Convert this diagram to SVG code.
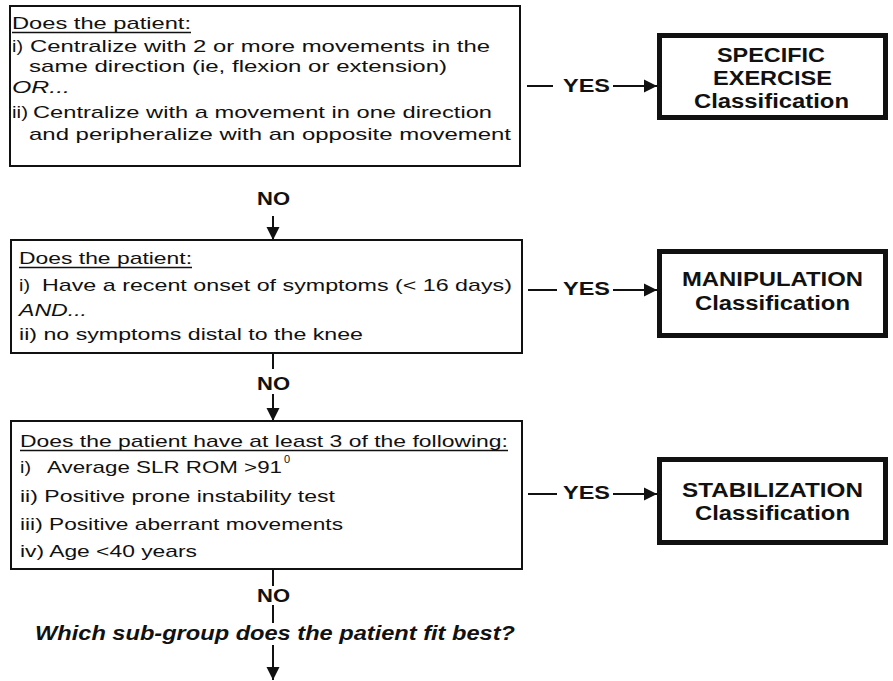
<svg xmlns="http://www.w3.org/2000/svg" width="893" height="681" viewBox="0 0 893 681">
<defs>
<style>
.t{font-family:"Liberation Sans",Arial,sans-serif;font-size:17px;fill:#111}
.it{font-style:italic}
.b{font-family:"Liberation Sans",Arial,sans-serif;font-size:20px;font-weight:bold;fill:#111}
.lbl{font-family:"Liberation Sans",Arial,sans-serif;font-size:19px;font-weight:bold;fill:#111}
.q{font-family:"Liberation Sans",Arial,sans-serif;font-size:20px;font-weight:bold;font-style:italic;fill:#111}
.box{fill:#fff;stroke:#111;stroke-width:2}
.rbox{fill:#fff;stroke:#111;stroke-width:5}
.ul{stroke:#111;stroke-width:1.3}
.ln{stroke:#111;stroke-width:2;fill:none}
</style>
<marker id="ah" markerUnits="userSpaceOnUse" markerWidth="14" markerHeight="14" refX="13" refY="7" orient="auto">
<path d="M0,0.5 L13,7 L0,13.5 Z" fill="#111"/>
</marker>
</defs>
<rect width="893" height="681" fill="#fff"/>

<g id="q1">
<rect class="box" x="10" y="6" width="510" height="160"/>
<text class="t" x="12" y="29" textLength="179" lengthAdjust="spacingAndGlyphs">Does the patient:</text>
<line class="ul" x1="12" y1="32.5" x2="191" y2="32.5"/>
<text class="t" x="12" y="52" textLength="11" lengthAdjust="spacingAndGlyphs">i)</text>
<text class="t" x="30" y="52" textLength="460" lengthAdjust="spacingAndGlyphs">Centralize with 2 or more movements in the</text>
<text class="t" x="29" y="72" textLength="418" lengthAdjust="spacingAndGlyphs">same direction (ie, flexion or extension)</text>
<text class="t it" x="12" y="93" textLength="58" lengthAdjust="spacingAndGlyphs">OR...</text>
<text class="t" x="12" y="118" textLength="16" lengthAdjust="spacingAndGlyphs">ii)</text>
<text class="t" x="33" y="118" textLength="459" lengthAdjust="spacingAndGlyphs">Centralize with a movement in one direction</text>
<text class="t" x="29" y="140" textLength="482" lengthAdjust="spacingAndGlyphs">and peripheralize with an opposite movement</text>
</g>

<g id="q2">
<rect class="box" x="11" y="240" width="511" height="113"/>
<text class="t" x="19" y="264" textLength="173" lengthAdjust="spacingAndGlyphs">Does the patient:</text>
<line class="ul" x1="19" y1="267.5" x2="192" y2="267.5"/>
<text class="t" x="19" y="291" textLength="11" lengthAdjust="spacingAndGlyphs">i)</text>
<text class="t" x="42" y="291" textLength="470" lengthAdjust="spacingAndGlyphs">Have a recent onset of symptoms (&lt; 16 days)</text>
<text class="t it" x="19" y="316" textLength="68" lengthAdjust="spacingAndGlyphs">AND...</text>
<text class="t" x="19" y="340" textLength="344" lengthAdjust="spacingAndGlyphs">ii) no symptoms distal to the knee</text>
</g>

<g id="q3">
<rect class="box" x="11" y="421" width="511" height="148"/>
<text class="t" x="20" y="447" textLength="488" lengthAdjust="spacingAndGlyphs">Does the patient have at least 3 of the following:</text>
<line class="ul" x1="20" y1="450.5" x2="508" y2="450.5"/>
<text class="t" x="20" y="473" textLength="11" lengthAdjust="spacingAndGlyphs">i)</text>
<text class="t" x="47" y="473" textLength="235" lengthAdjust="spacingAndGlyphs">Average SLR ROM &gt;91</text>
<text class="t" x="284" y="463" style="font-size:11px">0</text>
<text class="t" x="20" y="502" textLength="315" lengthAdjust="spacingAndGlyphs">ii) Positive prone instability test</text>
<text class="t" x="20" y="530" textLength="323" lengthAdjust="spacingAndGlyphs">iii) Positive aberrant movements</text>
<text class="t" x="20" y="557" textLength="177" lengthAdjust="spacingAndGlyphs">iv) Age &lt;40 years</text>
</g>

<g id="specific">
<rect class="rbox" x="659.5" y="35.5" width="226" height="82"/>
<text class="b" x="717" y="62" textLength="108" lengthAdjust="spacingAndGlyphs">SPECIFIC</text>
<text class="b" x="713" y="85" textLength="119" lengthAdjust="spacingAndGlyphs">EXERCISE</text>
<text class="b" x="694" y="108" textLength="155" lengthAdjust="spacingAndGlyphs">Classification</text>
</g>

<g id="manipulation">
<rect class="rbox" x="659.5" y="251.5" width="226" height="84"/>
<text class="b" x="682" y="286" textLength="181" lengthAdjust="spacingAndGlyphs">MANIPULATION</text>
<text class="b" x="695" y="310" textLength="155" lengthAdjust="spacingAndGlyphs">Classification</text>
</g>

<g id="stabilization">
<rect class="rbox" x="659.5" y="459.5" width="226" height="83"/>
<text class="b" x="682" y="497" textLength="181" lengthAdjust="spacingAndGlyphs">STABILIZATION</text>
<text class="b" x="695" y="520" textLength="155" lengthAdjust="spacingAndGlyphs">Classification</text>
</g>

<g id="subgroup">
<text class="q" x="35" y="640" textLength="480" lengthAdjust="spacingAndGlyphs">Which sub-group does the patient fit best?</text>
</g>

<g id="connectors">
<line class="ln" x1="527" y1="86" x2="553" y2="86"/>
<text class="lbl" x="563" y="92" textLength="47" lengthAdjust="spacingAndGlyphs">YES</text>
<line class="ln" x1="613" y1="86" x2="657" y2="86" marker-end="url(#ah)"/>

<line class="ln" x1="528" y1="290" x2="557" y2="290"/>
<text class="lbl" x="563" y="295" textLength="47" lengthAdjust="spacingAndGlyphs">YES</text>
<line class="ln" x1="613" y1="290" x2="657" y2="290" marker-end="url(#ah)"/>

<line class="ln" x1="528" y1="494" x2="557" y2="494"/>
<text class="lbl" x="563" y="499" textLength="47" lengthAdjust="spacingAndGlyphs">YES</text>
<line class="ln" x1="613" y1="494" x2="657" y2="494" marker-end="url(#ah)"/>

<text class="lbl" x="257" y="205" textLength="33" lengthAdjust="spacingAndGlyphs">NO</text>
<line class="ln" x1="273" y1="216" x2="273" y2="240" marker-end="url(#ah)"/>

<line class="ln" x1="273" y1="353" x2="273" y2="369"/>
<text class="lbl" x="257" y="390" textLength="33" lengthAdjust="spacingAndGlyphs">NO</text>
<line class="ln" x1="273" y1="394" x2="273" y2="421" marker-end="url(#ah)"/>

<line class="ln" x1="273" y1="569" x2="273" y2="586"/>
<text class="lbl" x="257" y="602" textLength="33" lengthAdjust="spacingAndGlyphs">NO</text>
<line class="ln" x1="273" y1="605" x2="273" y2="623"/>
<line class="ln" x1="273" y1="645" x2="273" y2="680" marker-end="url(#ah)"/>
</g>
</svg>
